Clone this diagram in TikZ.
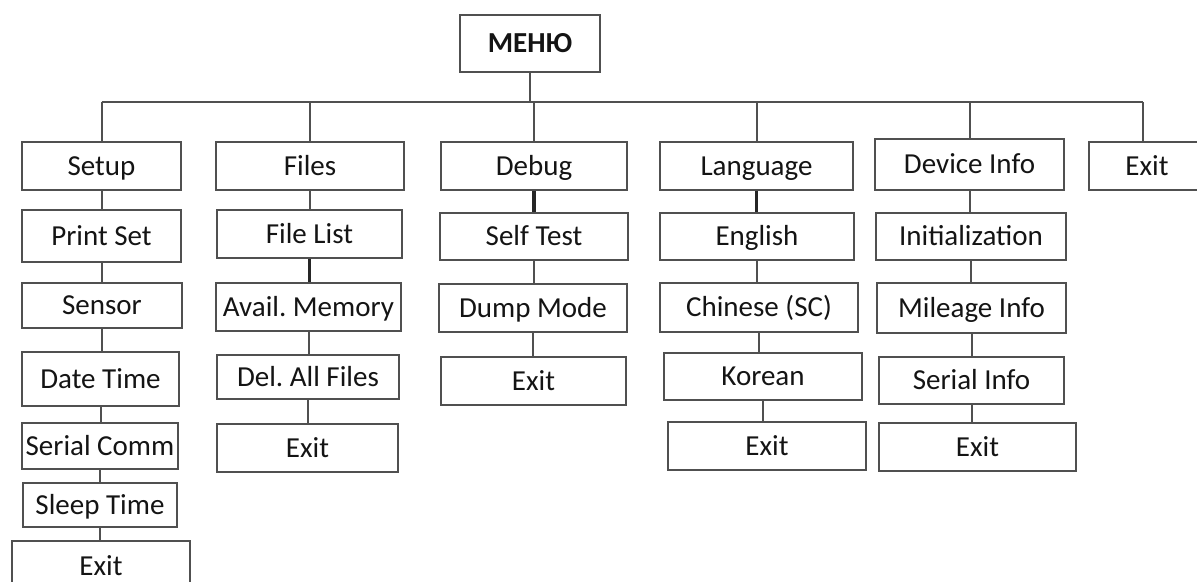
\documentclass[tikz,border=0pt]{standalone}
\usepackage{fontspec}
\setmainfont{Carlito}
\frenchspacing
\definecolor{menuline}{RGB}{80,80,80}
\definecolor{menutext}{RGB}{20,20,20}
\tikzset{
    menu box/.style={
        rectangle,
        draw=menuline,
        line width=1pt,
        inner sep=0pt,
        text height=9.3pt,
        text depth=0pt,
        text=menutext,
        font=\fontsize{14.5}{17}\selectfont,
    },
    box size/.style 2 args={minimum width=#1*0.5pt, minimum height=#2*0.5pt},
    menu link/.style={draw=menuline, line width=1pt},
    bold link/.style={draw=black!85, line width=1.7pt},
}

\begin{document}
\begin{tikzpicture}[x=0.5pt,y=-0.5pt]
    \useasboundingbox (0,0) rectangle (1197,582);

    % root and bus
    \node[menu box, box size={140}{57}, font=\fontsize{14.5}{17}\selectfont\bfseries] (menu) at (530,43.5) {МЕНЮ};
    \coordinate (bus) at (0,102);

    % top row
    \node[menu box, box size={159}{48}] (setup) at (101.5,166) {Setup};
    \node[menu box, box size={188}{48}] (files) at (310,166) {Files};
    \node[menu box, box size={186}{48}] (debug) at (534,166) {Debug};
    \node[menu box, box size={193}{48}] (lang) at (756.5,166) {Language};
    \node[menu box, box size={189}{51}] (device) at (969.5,164.5) {Device Info};
    \node[menu box, box size={130}{48}] (mainexit) at (1154,166) {\hspace*{-7pt}Exit};

    % Setup column
    \node[menu box, box size={159}{52}] (printset) at (101.5,236) {Print Set};
    \node[menu box, box size={160}{45}] (sensor) at (102,305.5) {Sensor};
    \node[menu box, box size={157}{54}] (datetime) at (100.5,379) {Date Time};
    \node[menu box, box size={156}{46}] (serialcomm) at (100,446) {Serial Comm};
    \node[menu box, box size={154}{44}] (sleeptime) at (100,505) {Sleep Time};
    \node[menu box, box size={178}{50}] (setupexit) at (101,566) {Exit};

    % Files column
    \node[menu box, box size={185}{48}] (filelist) at (309.5,234) {File List};
    \node[menu box, box size={185}{48}] (availmem) at (308.5,307) {Avail. Memory};
    \node[menu box, box size={182}{44}] (delall) at (308,377) {Del. All Files};
    \node[menu box, box size={181}{48}] (filesexit) at (307.5,448) {Exit};

    % Debug column
    \node[menu box, box size={188}{47}] (selftest) at (534,236.5) {Self Test};
    \node[menu box, box size={188}{48}] (dumpmode) at (533,308) {Dump Mode};
    \node[menu box, box size={185}{48}] (debugexit) at (533.5,381) {Exit};

    % Language column
    \node[menu box, box size={194}{47}] (english) at (757,236.5) {English};
    \node[menu box, box size={198}{49}] (chinese) at (759,307.5) {Chinese (SC)};
    \node[menu box, box size={198}{47}] (korean) at (763,376.5) {Korean};
    \node[menu box, box size={198}{48}] (langexit) at (767,446) {Exit};

    % Device Info column
    \node[menu box, box size={190}{47}] (init) at (971,236.5) {Initialization};
    \node[menu box, box size={189}{50}] (mileage) at (971.5,308) {Mileage Info};
    \node[menu box, box size={185}{47}] (serialinfo) at (971.5,380.5) {Serial Info};
    \node[menu box, box size={197}{48}] (deviceexit) at (977.5,447) {Exit};

    % bus lines
    \draw[menu link] (menu.south) -- (menu.south |- bus);
    \draw[menu link] (setup.north |- bus) -- ([xshift=-5.5pt]mainexit.north |- bus);
    \foreach \n in {setup,files,debug,lang,device}
        \draw[menu link] (\n.north) -- (\n.north |- bus);
    \draw[menu link] ([xshift=-5.5pt]mainexit.north) -- ([xshift=-5.5pt]mainexit.north |- bus);

    % column links
    \foreach \a/\b in {setup/printset,printset/sensor,sensor/datetime,datetime/serialcomm,serialcomm/sleeptime,sleeptime/setupexit,
                       files/filelist,availmem/delall,delall/filesexit,
                       selftest/dumpmode,dumpmode/debugexit,
                       english/chinese,chinese/korean,korean/langexit,
                       device/init,init/mileage,mileage/serialinfo,serialinfo/deviceexit}
        \draw[menu link] (\a.south) -- (\a.south |- \b.north);
    \foreach \a/\b in {filelist/availmem,debug/selftest,lang/english}
        \draw[bold link] (\a.south) -- (\a.south |- \b.north);
\end{tikzpicture}
\end{document}
